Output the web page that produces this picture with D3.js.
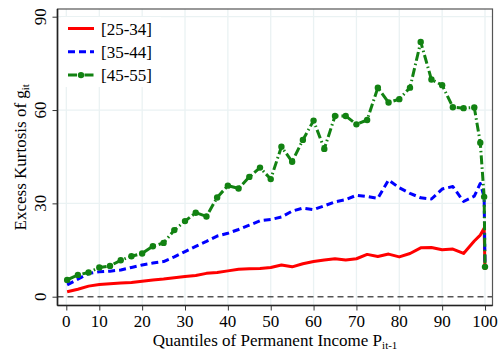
<!DOCTYPE html>
<html>
<head>
<meta charset="utf-8">
<script src="https://cdn.jsdelivr.net/npm/d3@7"></script>
<style>
  body { margin: 0; background: #fff; }
  svg text { font-family: "Liberation Serif", "DejaVu Serif", serif; fill: #000; }
</style>
</head>
<body>
<div id="chart"></div>
<script>
// quantile positions of the estimates (last three are the top percentiles)
var quantiles = [2.5, 5, 7.5, 10, 12.5, 15, 17.5, 20, 22.5, 25, 27.5, 30, 32.5, 35, 37.5, 40,
  42.5, 45, 47.5, 50, 52.5, 55, 57.5, 60, 62.5, 65, 67.5, 70, 72.5, 75, 77.5, 80,
  82.5, 85, 87.5, 90, 92.5, 95, 97.5, 98.9, 99.8, 100]

var age25 = [1.6, 2.4, 3.4, 3.9, 4.2, 4.4, 4.6, 5.0, 5.4, 5.7, 6.1, 6.5, 6.8, 7.5, 7.8, 8.3,
  8.8, 9.0, 9.1, 9.4, 10.2, 9.6, 10.6, 11.3, 11.8, 12.2, 11.8, 12.2, 13.6, 12.9, 13.7, 12.8,
  13.9, 15.7, 15.8, 15.1, 15.3, 13.9, 17.9, 19.8, 22.0, 8.6]

var age35 = [3.8, 5.6, 7.5, 8.0, 8.2, 8.6, 9.4, 10.2, 10.8, 11.3, 12.8, 14.5, 16.2, 17.8, 19.5, 20.4,
  21.6, 23.0, 24.4, 24.8, 25.6, 27.5, 28.5, 28.0, 29.2, 30.5, 31.2, 32.6, 32.2, 31.6, 37.5, 35.0,
  33.2, 31.8, 31.4, 34.6, 35.4, 30.6, 32.3, 36.4, 32.1, 10.0]

var age45 = [5.4, 7.0, 7.8, 9.4, 9.9, 11.7, 13.0, 13.9, 16.2, 17.3, 21.4, 24.3, 27.0, 25.8, 31.9, 35.7,
  34.8, 38.5, 41.5, 37.8, 48.2, 43.4, 50.4, 56.6, 47.5, 58.1, 58.1, 55.4, 56.8, 67.2, 62.4, 63.5,
  67.2, 81.9, 69.8, 68.0, 60.9, 60.6, 60.8, 49.5, 32.1, 9.6]

var seriesNames = ["[25-34]", "[35-44]", "[45-55]"]
var xTickValues = [2.3, 10, 20, 30, 40, 50, 60, 70, 80, 90, 100]
var xTickLabels = ["0", "10", "20", "30", "40", "50", "60", "70", "80", "90", "100"]
var yTickValues = [0, 30, 60, 90]

var width = 504
var height = 351
// note: not "top", that name is taken by window.top
var plotLeft = 57.5, plotRight = 492.5, plotTop = 9, plotBottom = 305.5

var x = d3.scaleLinear().domain([10, 100]).range([99.3, 485])
var y = d3.scaleLinear().domain([0, 90]).range([296.7, 16.7])

var svg = d3.select("#chart").append("svg")
  .attr("width", width)
  .attr("height", height)

// grid
svg.append("g").selectAll("line")
  .data(xTickValues)
  .enter().append("line")
  .attr("x1", function (d) { return x(d) })
  .attr("x2", function (d) { return x(d) })
  .attr("y1", plotTop)
  .attr("y2", plotBottom)
  .attr("stroke", "#eaf2f3")
  .attr("stroke-width", 1.3)

svg.append("g").selectAll("line")
  .data(yTickValues.slice(1))
  .enter().append("line")
  .attr("x1", plotLeft)
  .attr("x2", plotRight)
  .attr("y1", function (d) { return y(d) })
  .attr("y2", function (d) { return y(d) })
  .attr("stroke", "#eaf2f3")
  .attr("stroke-width", 1.3)

// zero reference line
svg.append("line")
  .attr("x1", plotLeft)
  .attr("x2", plotRight)
  .attr("y1", y(0))
  .attr("y2", y(0))
  .attr("stroke", "#555")
  .attr("stroke-width", 1.5)
  .attr("stroke-dasharray", "6,4")

// frame
svg.append("rect")
  .attr("x", plotLeft)
  .attr("y", plotTop)
  .attr("width", plotRight - plotLeft)
  .attr("height", plotBottom - plotTop)
  .attr("fill", "none")
  .attr("stroke", "#555")
  .attr("stroke-width", 1.2)

// axes (lines and ticks from d3, labels drawn below)
var gx = svg.append("g")
  .attr("transform", "translate(0," + plotBottom + ")")
  .call(d3.axisBottom(x).tickValues(xTickValues).tickFormat("").tickSize(5).tickSizeOuter(0))
gx.select(".domain").attr("d", "M" + plotLeft + ",0H" + plotRight).attr("stroke", "#222").attr("stroke-width", 1.6)
gx.selectAll("line").attr("stroke", "#333")

var gy = svg.append("g")
  .attr("transform", "translate(" + plotLeft + ",0)")
  .call(d3.axisLeft(y).tickValues(yTickValues).tickFormat("").tickSize(5).tickSizeOuter(0))
gy.select(".domain").attr("d", "M0," + plotTop + "V" + plotBottom).attr("stroke", "#222").attr("stroke-width", 1.6)
gy.selectAll("line").attr("stroke", "#333")

svg.append("g").selectAll("text")
  .data(xTickValues)
  .enter().append("text")
  .attr("x", function (d) { return x(d) })
  .attr("y", 326.5)
  .attr("text-anchor", "middle")
  .attr("font-size", 17)
  .text(function (d, i) { return xTickLabels[i] })

svg.append("g").selectAll("text")
  .data(yTickValues)
  .enter().append("text")
  .attr("transform", function (d) { return "translate(45.5," + y(d) + ") rotate(-90)" })
  .attr("text-anchor", "middle")
  .attr("font-size", 17)
  .text(function (d) { return d })

// series
var series = [
  { name: seriesNames[0], values: age25, color: "#ff0000", dash: null, markers: false },
  { name: seriesNames[1], values: age35, color: "#0000ff", dash: "7,4", markers: false },
  { name: seriesNames[2], values: age45, color: "#128212", dash: "9,3,1.5,3", markers: true }
]

var line = d3.line()
  .x(function (d) { return x(d[0]) })
  .y(function (d) { return y(d[1]) })

series.forEach(function (s) {
  var pts = quantiles.map(function (q, i) { return [q, s.values[i]] })
  svg.append("path")
    .datum(pts)
    .attr("d", line)
    .attr("fill", "none")
    .attr("stroke", s.color)
    .attr("stroke-width", 3)
    .attr("stroke-linejoin", "round")
    .attr("stroke-dasharray", s.dash)
  if (s.markers) {
    svg.append("g").selectAll("circle")
      .data(pts)
      .enter().append("circle")
      .attr("cx", function (d) { return x(d[0]) })
      .attr("cy", function (d) { return y(d[1]) })
      .attr("r", 3.2)
      .attr("fill", s.color)
  }
})

// legend
var legend = svg.append("g")
legend.append("rect")
  .attr("x", 61)
  .attr("y", 17)
  .attr("width", 100)
  .attr("height", 70)
  .attr("fill", "#fff")

series.forEach(function (s, i) {
  var ly = 28.5 + i * 23.3
  legend.append("line")
    .attr("x1", 68)
    .attr("x2", 94)
    .attr("y1", ly)
    .attr("y2", ly)
    .attr("stroke", s.color)
    .attr("stroke-width", 3)
    .attr("stroke-dasharray", s.dash)
  if (s.markers) {
    legend.append("circle")
      .attr("cx", 81)
      .attr("cy", ly)
      .attr("r", 3.2)
      .attr("fill", s.color)
  }
  legend.append("text")
    .attr("x", 101)
    .attr("y", ly + 6)
    .attr("font-size", 17)
    .text(s.name)
})

// axis titles
var xt = svg.append("text")
  .attr("x", (plotLeft + plotRight) / 2)
  .attr("y", 346)
  .attr("text-anchor", "middle")
  .attr("font-size", 17)
xt.append("tspan").text("Quantiles of Permanent Income P")
xt.append("tspan").attr("dy", 3).attr("font-size", 11).text("it-1")

var yt = svg.append("text")
  .attr("transform", "translate(26," + ((plotTop + plotBottom) / 2) + ") rotate(-90)")
  .attr("text-anchor", "middle")
  .attr("font-size", 17)
yt.append("tspan").text("Excess Kurtosis of g")
yt.append("tspan").attr("dy", 3).attr("font-size", 11).text("it")
</script>
</body>
</html>
